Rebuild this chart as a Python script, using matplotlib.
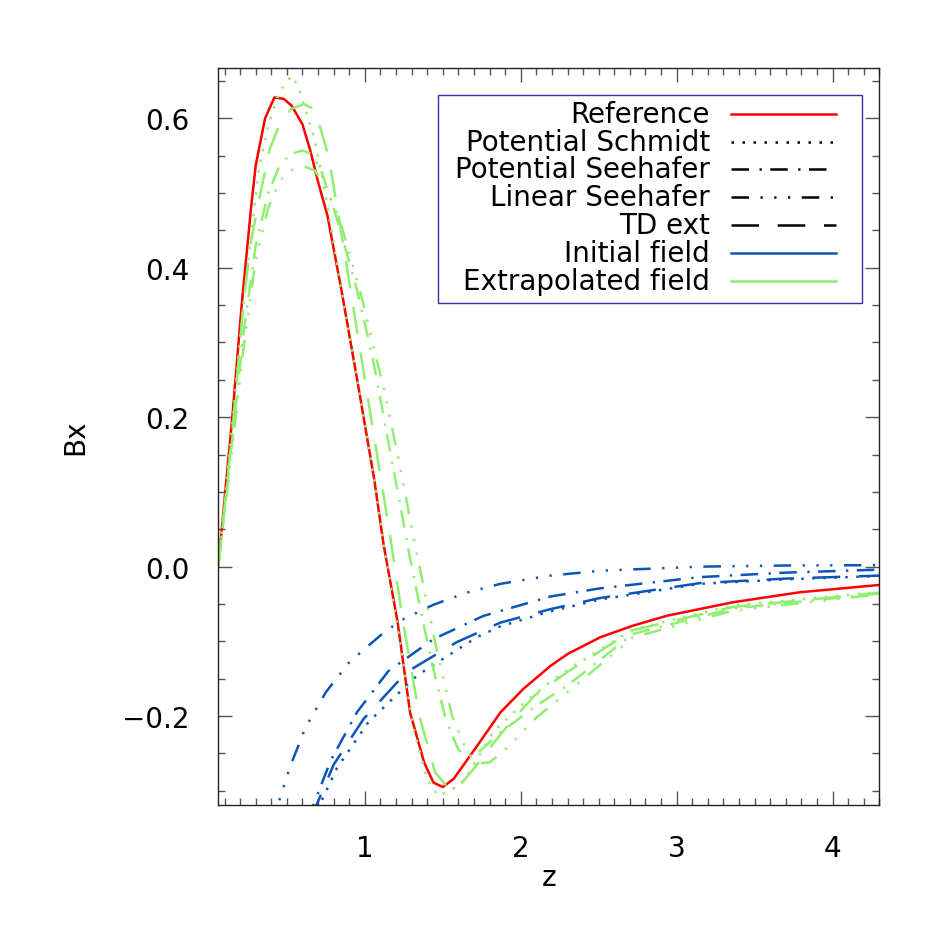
import matplotlib
matplotlib.use("Agg")
import matplotlib.pyplot as plt
from matplotlib.lines import Line2D
from matplotlib.patches import Rectangle
from matplotlib.ticker import MultipleLocator

plt.rcParams['font.family'] = ['DejaVu Sans']

# ---------------- data ----------------
z_ref = [0.06, 0.10, 0.15, 0.21, 0.27, 0.30, 0.36, 0.42, 0.48, 0.53, 0.60, 0.65, 0.70, 0.76, 0.85,
         0.95, 1.06, 1.12, 1.21, 1.29, 1.38, 1.44, 1.50, 1.57, 1.72, 1.87, 2.02, 2.19, 2.30, 2.51,
         2.72, 2.94, 3.36, 3.79, 4.30]
bx_ref = [0.0, 0.09, 0.20, 0.35, 0.48, 0.537, 0.60, 0.628, 0.626, 0.617, 0.592, 0.557, 0.515, 0.47, 0.37,
          0.251, 0.117, 0.03, -0.074, -0.195, -0.262, -0.289, -0.295, -0.284, -0.24, -0.195, -0.163, -0.133, -0.117, -0.0945,
          -0.079, -0.0656, -0.0477, -0.0343, -0.0245]

# extrapolated fields (green)
z_schmidt_ext = [0.06, 0.15, 0.22, 0.29, 0.32, 0.38, 0.45, 0.53, 0.57, 0.63, 0.67, 0.72, 0.77, 0.85, 0.95,
                 1.06, 1.12, 1.21, 1.31, 1.40, 1.47, 1.56, 1.64, 1.82, 2.00, 2.17, 2.30, 2.72, 3.36, 4.30]
bx_schmidt_ext = [0.0, 0.19, 0.35, 0.479, 0.532, 0.59, 0.635, 0.657, 0.644, 0.604, 0.577, 0.53, 0.47, 0.37, 0.251,
                  0.117, 0.03, -0.08, -0.215, -0.285, -0.307, -0.298, -0.286, -0.222, -0.186, -0.157, -0.138, -0.084, -0.052, -0.034]

z_pseehafer_ext = [0.06, 0.15, 0.22, 0.30, 0.38, 0.45, 0.52, 0.60, 0.66, 0.72, 0.80, 0.87, 0.95, 1.05, 1.13,
                   1.22, 1.30, 1.42, 1.52, 1.60, 1.66, 1.72, 1.87, 2.10, 2.30, 2.72, 3.36, 4.30]
bx_pseehafer_ext = [0.0, 0.17, 0.31, 0.43, 0.50, 0.535, 0.552, 0.557, 0.552, 0.53, 0.48, 0.43, 0.37, 0.28, 0.19,
                    0.09, 0.0, -0.12, -0.205, -0.245, -0.255, -0.25, -0.222, -0.186, -0.159, -0.09, -0.056, -0.036]

z_lseehafer_ext = [0.06, 0.15, 0.22, 0.30, 0.38, 0.45, 0.52, 0.62, 0.68, 0.74, 0.83, 0.90, 0.98, 1.13, 1.22,
                   1.33, 1.46, 1.56, 1.66, 1.74, 1.80, 1.90, 2.10, 2.30, 2.72, 3.36, 4.30]
bx_lseehafer_ext = [0.0, 0.16, 0.29, 0.41, 0.48, 0.515, 0.53, 0.535, 0.53, 0.51, 0.47, 0.42, 0.36, 0.231, 0.14,
                    0.02, -0.11, -0.20, -0.25, -0.263, -0.262, -0.245, -0.202, -0.168, -0.0945, -0.059, -0.037]

z_td_ext = [0.06, 0.15, 0.22, 0.265, 0.33, 0.39, 0.46, 0.53, 0.61, 0.67, 0.72, 0.77, 0.84, 1.00, 1.16,
            1.25, 1.35, 1.45, 1.54, 1.62, 1.72, 1.80, 1.88, 1.95, 2.09, 2.30, 2.72, 3.36, 4.30]
bx_td_ext = [0.0, 0.18, 0.349, 0.43, 0.50, 0.559, 0.595, 0.613, 0.619, 0.613, 0.584, 0.546, 0.459, 0.251, 0.044,
             -0.08, -0.2, -0.275, -0.298, -0.29, -0.265, -0.243, -0.222, -0.205, -0.172, -0.141, -0.085, -0.054, -0.035]

# initial fields (blue)
z_lseehafer_ini = [0.40, 0.442, 0.52, 0.62, 0.75, 0.90, 1.10, 1.23, 1.44, 1.65, 1.87, 2.19, 2.51, 3.15, 3.70, 4.30]
bx_lseehafer_ini = [-0.35, -0.319, -0.268, -0.215, -0.168, -0.128, -0.092, -0.072, -0.051, -0.035, -0.023, -0.012, -0.0055, 0.0, 0.0015, 0.002]

z_pseehafer_ini = [0.64, 0.67, 0.78, 0.949, 1.15, 1.44, 1.76, 2.19, 2.51, 3.15, 3.70, 4.30]
bx_pseehafer_ini = [-0.34, -0.319, -0.26, -0.195, -0.14, -0.097, -0.066, -0.040, -0.029, -0.014, -0.008, -0.004]

z_td_ini = [0.66, 0.69, 0.80, 0.991, 1.269, 1.59, 1.868, 2.188, 2.508, 3.15, 3.70, 4.30]
bx_td_ini = [-0.34, -0.319, -0.265, -0.204, -0.141, -0.101, -0.075, -0.057, -0.042, -0.022, -0.016, -0.012]

z_schmidt_ini = [0.68, 0.71, 0.82, 1.023, 1.333, 1.718, 1.868, 2.188, 2.508, 3.15, 3.70, 4.30]
bx_schmidt_ini = [-0.34, -0.319, -0.27, -0.208, -0.146, -0.0945, -0.08, -0.06, -0.044, -0.023, -0.017, -0.0125]

legend_labels = ["Reference", "Potential Schmidt", "Potential Seehafer", "Linear Seehafer",
                 "TD ext", "Initial field", "Extrapolated field"]

# ---------------- styles ----------------
RED = '#ff0000'
BLUE = '#0a56b8'
GREEN = '#90ee70'
LW = 1.8
DOT = (0, (1, 3.4))
DASHDOT = (0, (7, 4.2, 0.9, 3.4))
DASH3DOT = (0, (7, 4.6, 0.9, 4.6, 0.9, 4.6, 0.9, 4.6))
LONGDASH = (0, (11, 7.5))

fig = plt.figure(figsize=(9.45, 9.45), dpi=100)
ax = fig.add_axes([0.2310, 0.1471, 0.6995, 0.7796])

ax.plot(z_ref, bx_ref, color=RED, lw=LW, ls='-')

ax.plot(z_lseehafer_ini, bx_lseehafer_ini, color=BLUE, lw=LW, ls=DASH3DOT)
ax.plot(z_pseehafer_ini, bx_pseehafer_ini, color=BLUE, lw=LW, ls=DASHDOT)
ax.plot(z_td_ini, bx_td_ini, color=BLUE, lw=LW, ls=LONGDASH)
ax.plot(z_schmidt_ini, bx_schmidt_ini, color=BLUE, lw=LW, ls=DOT)

ax.plot(z_td_ext, bx_td_ext, color=GREEN, lw=LW, ls=LONGDASH)
ax.plot(z_pseehafer_ext, bx_pseehafer_ext, color=GREEN, lw=LW, ls=DASHDOT)
ax.plot(z_lseehafer_ext, bx_lseehafer_ext, color=GREEN, lw=LW, ls=DASH3DOT)
ax.plot(z_schmidt_ext, bx_schmidt_ext, color=GREEN, lw=LW, ls=DOT)

ax.set_xlim(0.06, 4.30)
ax.set_ylim(-0.319, 0.667)
ax.xaxis.set_major_locator(MultipleLocator(1))
ax.xaxis.set_minor_locator(MultipleLocator(0.1))
ax.yaxis.set_major_locator(MultipleLocator(0.2))
ax.yaxis.set_minor_locator(MultipleLocator(0.05))
ax.tick_params(which='both', direction='in', top=True, right=True, color='#555555', width=1.0)
ax.tick_params(which='major', length=10, labelsize=20)
ax.tick_params(which='minor', length=5)
ax.tick_params(axis='x', which='major', pad=21)
ax.tick_params(axis='y', which='major', pad=21)
for s in ax.spines.values():
    s.set_linewidth(1.0)
    s.set_color('#222222')

ax.set_xlabel('z', fontsize=20, va='center')
ax.xaxis.set_label_coords(0.5, -0.098)
ax.set_ylabel('Bx', fontsize=20, va='center')
ax.yaxis.set_label_coords(-0.217, 0.5)

# ---------------- legend (drawn in axes coordinates) ----------------
ax.add_patch(Rectangle((0.333, 0.682), 0.641, 0.282, transform=ax.transAxes,
                       fill=False, edgecolor='#3434a0', lw=1.0, zorder=5))
row_px = [115, 143.3, 170.5, 198.3, 225.7, 254.5, 282.3]
leg_styles = [(RED, '-'), ('black', DOT), ('black', DASHDOT), ('black', DASH3DOT),
              ('black', LONGDASH), (BLUE, '-'), (GREEN, '-')]
for lab, py, (c, ls) in zip(legend_labels, row_px, leg_styles):
    y = (806 - py) / 736.7
    ax.text(0.744, y, lab, transform=ax.transAxes, ha='right', va='center', fontsize=20, zorder=6)
    ax.add_line(Line2D([0.775, 0.935], [y, y], transform=ax.transAxes, color=c, ls=ls, lw=LW, zorder=6))

fig.savefig('out.png', dpi=100)
